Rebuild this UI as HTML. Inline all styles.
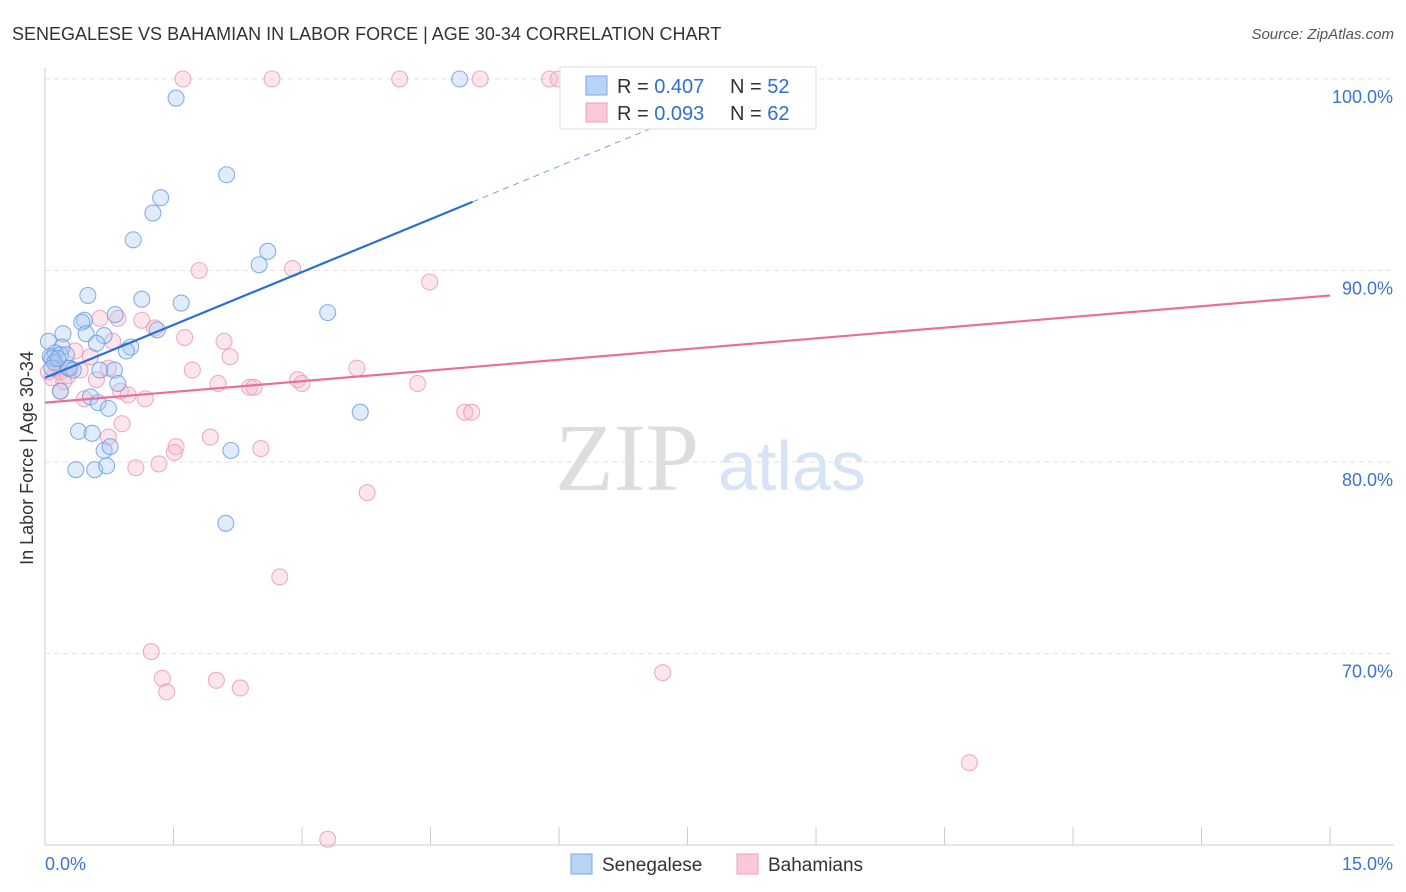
<!DOCTYPE html>
<html><head><meta charset="utf-8">
<style>
body{margin:0;background:#fff;font-family:"Liberation Sans",sans-serif;}
svg{display:block}
</style></head>
<body>
<svg id="chart" width="1406" height="892" xmlns="http://www.w3.org/2000/svg">
<text x="12" y="40" font-size="18" fill="#333" font-family="Liberation Sans, sans-serif">SENEGALESE VS BAHAMIAN IN LABOR FORCE | AGE 30-34 CORRELATION CHART</text>
<text x="1394" y="39" font-size="15" fill="#555" font-style="italic" text-anchor="end">Source: ZipAtlas.com</text>
<g id="grid"></g>
<g id="axes"></g>
<text x="555" y="490" font-size="96" fill="#ddd" font-family="Liberation Serif, serif">ZIP</text>
<text x="718" y="490" font-size="70" fill="#d6e4f5">atlas</text>
<g id="marks"></g>
<text transform="translate(33,458) rotate(-90)" font-size="18" fill="#333" text-anchor="middle">In Labor Force | Age 30-34</text>
<g>
<rect x="560" y="67" width="256" height="62" fill="#fff" stroke="#ddd"/>
<rect x="586" y="76" width="21" height="19" fill="#b8d3f5" stroke="#7aa8e6"/>
<text x="617" y="93" font-size="20" fill="#333">R = <tspan fill="#2f6fd0">0.407</tspan></text>
<text x="730" y="93" font-size="20" fill="#333">N = <tspan fill="#2f6fd0">52</tspan></text>
<rect x="586" y="103" width="21" height="19" fill="#fac8d8" stroke="#eaa0b8"/>
<text x="617" y="120" font-size="20" fill="#333">R = <tspan fill="#2f6fd0">0.093</tspan></text>
<text x="730" y="120" font-size="20" fill="#333">N = <tspan fill="#2f6fd0">62</tspan></text>
</g>
<g>
<rect x="571" y="854" width="21" height="20" fill="#b8d3f5" stroke="#7aa8e6"/>
<text x="602" y="871" font-size="19" fill="#333">Senegalese</text>
<rect x="737" y="854" width="21" height="20" fill="#fac8d8" stroke="#eaa0b8"/>
<text x="768" y="871" font-size="19" fill="#333">Bahamians</text>
</g>
</svg>
<script>
const blueX=[1.53,2.12,1.35,1.26,1.03,2.60,2.50,0.50,1.13,1.59,3.30,0.82,0.46,0.43,0.21,0.48,0.69,1.31,0.04,0.20,0.60,1.00,0.95,0.12,0.06,0.18,0.25,0.08,0.29,0.64,0.81,0.11,0.85,0.18,0.53,0.62,0.74,3.68,0.39,0.55,0.69,0.76,2.17,0.36,0.58,0.72,2.11,4.84,0.27,0.08,0.15,0.33];
const blueY=[99.0,95.0,93.8,93.0,91.6,91.0,90.3,88.7,88.5,88.3,87.8,87.7,87.4,87.3,86.7,86.7,86.6,86.9,86.3,86.0,86.2,86.0,85.8,85.7,85.5,85.6,85.6,85.4,84.9,84.8,84.8,85.2,84.1,83.7,83.4,83.1,82.8,82.6,81.6,81.5,80.6,80.8,80.6,79.6,79.6,79.8,76.8,100,84.9,84.9,85.4,84.8];
const pinkX=[1.61,2.65,4.14,5.08,5.89,5.99,7.41,1.80,2.89,4.49,0.85,1.13,0.64,1.28,1.63,2.09,0.79,0.35,0.53,2.16,0.13,1.72,3.64,0.18,0.27,0.41,0.74,0.08,2.02,2.39,2.44,2.95,3.00,4.35,0.88,0.97,1.17,0.46,4.90,4.98,0.90,0.74,1.93,1.53,1.51,2.52,1.33,1.06,3.76,2.74,1.24,1.37,1.42,2.00,2.28,7.21,10.79,3.30,0.18,0.22,0.04,0.60];
const pinkY=[100,100,100,100,100,100,100,90.0,90.1,89.4,87.5,87.4,87.5,87.0,86.5,86.3,86.3,85.8,85.5,85.5,85.1,84.8,84.9,84.7,84.5,84.8,84.9,84.4,84.1,83.9,83.9,84.3,84.1,84.1,83.7,83.5,83.3,83.3,82.6,82.6,82.0,81.3,81.3,80.8,80.5,80.7,79.9,79.7,78.4,74.0,70.1,68.7,68.0,68.6,68.2,69.0,64.3,60.3,83.7,84.2,84.7,84.3];
const blueTrend=[84.4,1.84];
const pinkTrend=[83.1,0.373];
const yTicks=[100,90,80,70];
const yTickLabels=["100.0%","90.0%","80.0%","70.0%"];
const xTicks=[0,1.5,3,4.5,6,7.5,9,10.5,12,13.5,15];

const NS="http://www.w3.org/2000/svg";
const sx=v=>45+v*85.67;
const sy=v=>79+(100-v)*19.15;
function mk(tag,attrs,parent){const e=document.createElementNS(NS,tag);for(const k in attrs)e.setAttribute(k,attrs[k]);parent.appendChild(e);return e;}
const grid=document.getElementById('grid'),axes=document.getElementById('axes'),marks=document.getElementById('marks');
yTicks.forEach((t,i)=>{
 const l=mk('line',{x1:45,x2:1394,y1:sy(t),y2:sy(t),stroke:'#e2e2e2','stroke-dasharray':'5,4'},grid);
 
 
 const tx=mk('text',{x:1393,y:sy(t)+24,'font-size':18,fill:'#3b74d0','text-anchor':'end'},axes);
 tx.textContent=yTickLabels[i];
 
 
});
mk('line',{x1:45,x2:45,y1:68,y2:845,stroke:'#ccc'},axes);
mk('line',{x1:45,x2:1394,y1:845,y2:845,stroke:'#ccc'},axes);
xTicks.forEach(t=>{const l=mk('line',{x1:sx(t),x2:sx(t),y1:827,y2:845,stroke:'#ccc'},axes);
 
 });
const xl0=mk('text',{x:45,y:870,'font-size':18,fill:'#3b74d0'},axes);xl0.textContent="0.0%";


const xl1=mk('text',{x:1393,y:870,'font-size':18,fill:'#3b74d0','text-anchor':'end'},axes);xl1.textContent="15.0%";



function pts(X,Y,fill,stroke,name){X.forEach((x,i)=>{const c=mk('circle',{cx:sx(x),cy:sy(Y[i]),r:8,fill:fill,'fill-opacity':0.35,stroke:stroke,'stroke-opacity':0.8,'stroke-width':1.1},marks);
 
 });}
pts(pinkX,pinkY,'#f7b6cb','#eb98b6','bahamian-point');
pts(blueX,blueY,'#a9c9f2','#6b9de0','senegalese-point');
const bEnd=4.99, bDash=7.6;
let l=mk('line',{x1:sx(0),y1:sy(blueTrend[0]),x2:sx(bEnd),y2:sy(blueTrend[0]+blueTrend[1]*bEnd),stroke:'#2a6fd6','stroke-width':2.2},marks);


l=mk('line',{x1:sx(bEnd),y1:sy(blueTrend[0]+blueTrend[1]*bEnd),x2:sx(bDash),y2:sy(blueTrend[0]+blueTrend[1]*bDash),stroke:'#7aa0d8','stroke-width':1,'stroke-dasharray':'6,5'},marks);


l=mk('line',{x1:sx(0),y1:sy(pinkTrend[0]),x2:sx(15),y2:sy(pinkTrend[0]+pinkTrend[1]*15),stroke:'#e8709a','stroke-width':2.2},marks);


</script>
</body></html>
